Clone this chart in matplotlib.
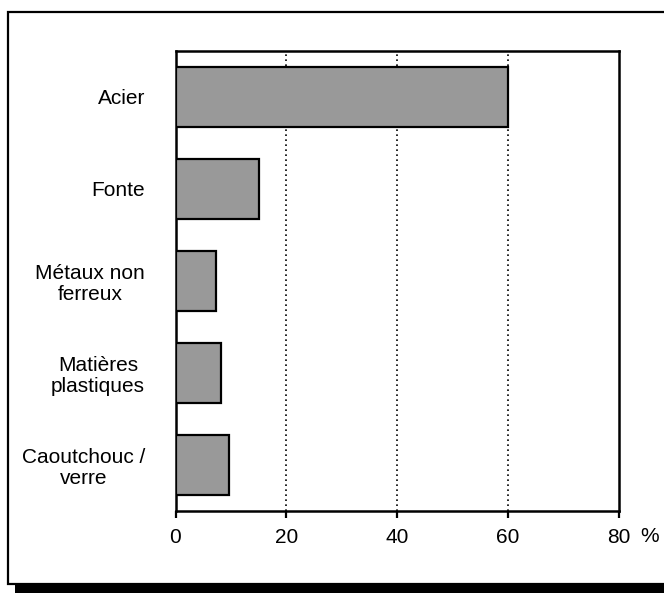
import matplotlib.pyplot as plt
from matplotlib.patches import Rectangle

plt.rcParams['font.family'] = ['Liberation Sans', 'DejaVu Sans']

# Composition d'un véhicule par matériau (%)
materiaux = ["Acier", "Fonte", "Métaux non\nferreux", "Matières\nplastiques", "Caoutchouc /\nverre"]
parts = [60, 15, 7.3, 8.2, 9.7]
graduations = [0, 20, 40, 60, 80]

W, H = 664, 599
fig = plt.figure(figsize=(W / 100, H / 100), dpi=100)

# cadre extérieur avec ombre portée en bas
fig.patches.append(Rectangle((15 / W, 6 / H), (W - 15) / W + 0.01, 8 / H,
                             transform=fig.transFigure, facecolor='black',
                             edgecolor='none', zorder=0))
fig.patches.append(Rectangle((8 / W, 15 / H), (W - 8) / W + 0.01, 572 / H,
                             transform=fig.transFigure, facecolor='white',
                             edgecolor='black', linewidth=1.6, zorder=1))

ax = fig.add_axes([175.5 / W, 88 / H, 443.5 / W, 460 / H])
ax.set_zorder(2)

y = range(len(materiaux))
ax.barh(y, parts, height=0.66, color='#999999', edgecolor='black',
        linewidth=1.6, zorder=3)

ax.set_xlim(0, 80)
ax.set_ylim(len(materiaux) - 0.5, -0.5)

ax.set_xticks(graduations)
ax.set_xticklabels([str(g) for g in graduations], fontsize=15)
ax.tick_params(axis='x', direction='out', length=5, width=1.6, pad=7)

ax.set_yticks(list(y))
ax.set_yticklabels(materiaux, fontsize=15, ha='right', multialignment='center',
                   linespacing=1.1)
ax.tick_params(axis='y', length=0, pad=22)

for g in graduations[1:-1]:
    ax.axvline(g, color='black', linewidth=1.2, linestyle=(0, (1, 2)), zorder=1)

for s in ax.spines.values():
    s.set_linewidth(1.8)

ax.text(1.07, -0.056, "%", transform=ax.transAxes, fontsize=15,
        ha='center', va='center')

fig.savefig("out.png", dpi=100)
